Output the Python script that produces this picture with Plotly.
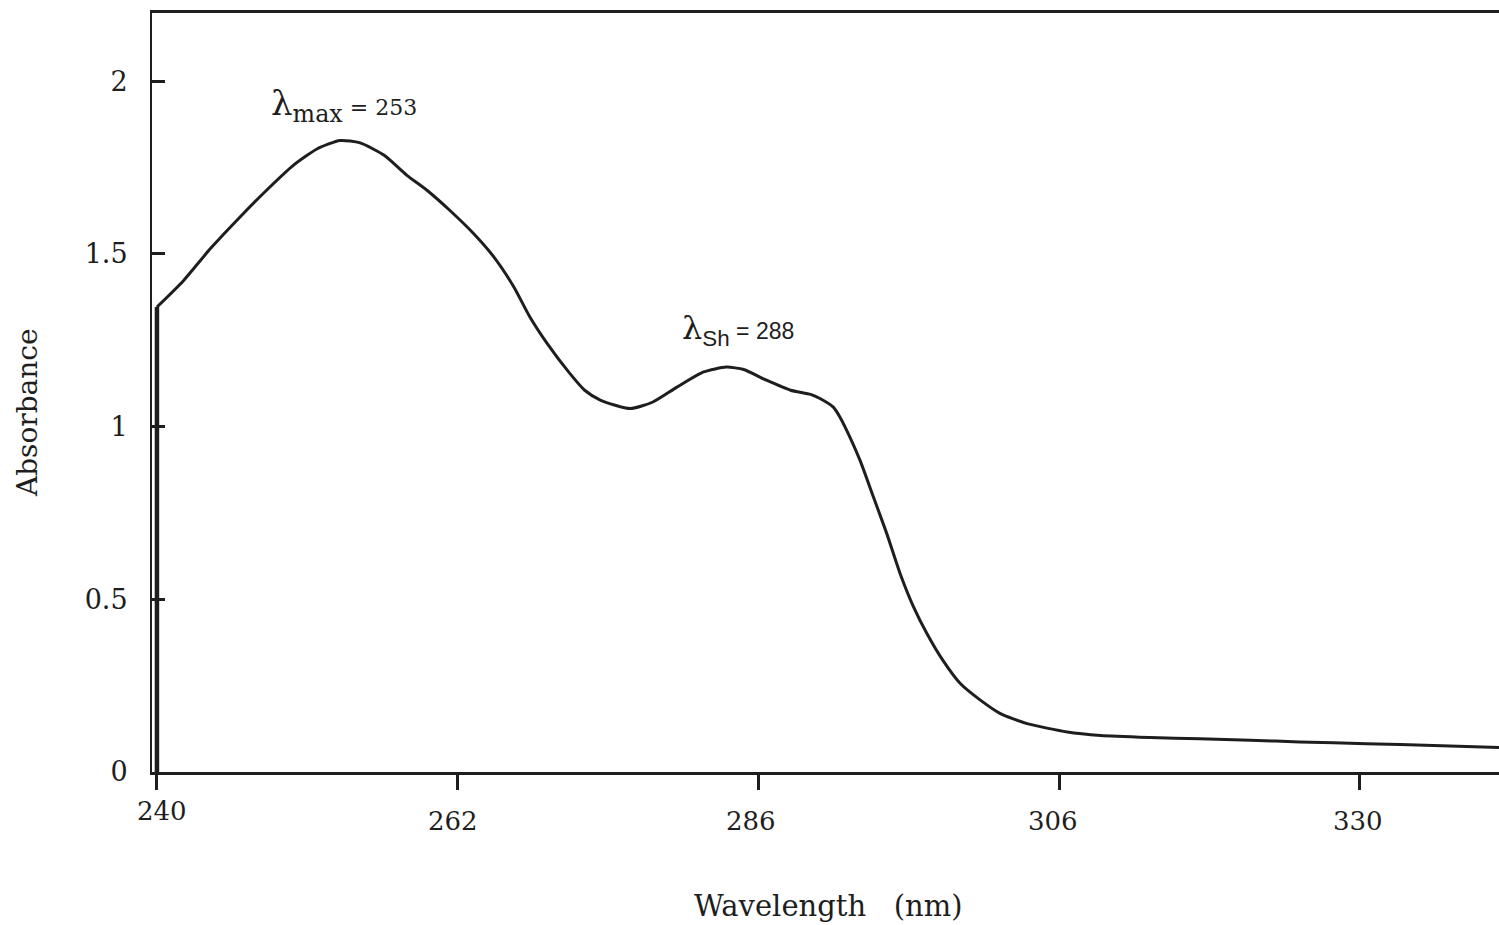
import plotly.graph_objects as go

# Spectrum data
wavelength = [240.0, 240.0, 242.0, 244.0, 246.2, 248.2, 250.2, 252.0, 253.7, 255.2, 257.0,
              258.7, 260.2, 261.9, 263.7, 265.2, 266.7, 267.9, 269.2, 270.9, 272.0, 273.2,
              275.4, 277.1, 278.9, 280.9, 282.6, 283.9, 285.6, 287.4, 288.9, 289.6, 290.6,
              291.1, 291.6, 292.6, 293.6, 294.6, 295.6, 296.6, 297.6, 298.8, 300.1, 301.6,
              303.1, 305.1, 308.1, 310.6, 314.3, 318.0, 321.8, 325.5, 330.5, 335.5, 340.4]
absorbance = [0.0, 1.346, 1.423, 1.515, 1.606, 1.684, 1.756, 1.804, 1.828, 1.821, 1.785,
              1.727, 1.684, 1.626, 1.558, 1.491, 1.404, 1.317, 1.240, 1.153, 1.105, 1.076,
              1.052, 1.071, 1.114, 1.158, 1.172, 1.165, 1.134, 1.105, 1.093, 1.081, 1.056,
              1.027, 0.989, 0.902, 0.796, 0.690, 0.574, 0.478, 0.401, 0.323, 0.256, 0.208,
              0.169, 0.140, 0.116, 0.106, 0.100, 0.096, 0.092, 0.087, 0.082, 0.077, 0.071]

x_tick_positions = [240, 262.5, 285, 307.5, 330]
x_tick_labels = ["240", "262", "286", "306", "330"]
y_tick_values = [0, 0.5, 1, 1.5, 2]
y_tick_labels = ["0", "0.5", "1", "1.5", "2"]

INK = "#1e1e1e"
SERIF = "DejaVu Serif"

fig = go.Figure()
# initial vertical rise of the recorded trace (straight segment)
fig.add_trace(go.Scatter(x=wavelength[:2], y=absorbance[:2], mode="lines",
                         line=dict(color=INK, width=4.5),
                         showlegend=False, hoverinfo="skip"))
# the spectrum itself (smoothed)
fig.add_trace(go.Scatter(x=wavelength[1:], y=absorbance[1:], mode="lines",
                         line=dict(color=INK, width=3, shape="spline", smoothing=0.6),
                         showlegend=False, hoverinfo="skip"))

# x tick labels (slightly staggered in the original)
label_shift_y = [-39, -49, -49, -49, -49]
label_shift_x = [5, -5, -7, -6, -2]
for pos, lab, sy, sx in zip(x_tick_positions, x_tick_labels, label_shift_y, label_shift_x):
    fig.add_annotation(x=pos, y=0, xref="x", yref="paper", text=lab, showarrow=False,
                       yanchor="middle", xanchor="center", yshift=sy, xshift=sx,
                       font=dict(family=SERIF, size=26, color=INK))

# Peak annotations
fig.add_annotation(x=254.0, y=1.93, xref="x", yref="y", showarrow=False,
                   xanchor="center", yanchor="middle",
                   text='λ<sub>max</sub><span style="font-size:22px"> = 253</span>',
                   font=dict(family=SERIF, size=34, color=INK))
fig.add_annotation(x=283.5, y=1.278, xref="x", yref="y", showarrow=False,
                   xanchor="center", yanchor="middle",
                   text='λ<sub><span style="font-family:Liberation Sans">Sh</span></sub>'
                        '<span style="font-size:23px;font-family:Liberation Sans"> = 288</span>',
                   font=dict(family=SERIF, size=32, color=INK))

# Axis titles
fig.add_annotation(x=-0.092, y=0.473, xref="paper", yref="paper", text="Absorbance",
                   textangle=-90, showarrow=False, xanchor="center", yanchor="middle",
                   font=dict(family=SERIF, size=28, color=INK))
fig.add_annotation(x=0.502, y=0, xref="paper", yref="paper", yanchor="middle",
                   xanchor="center", yshift=-134, text="Wavelength&nbsp;&nbsp;&nbsp;(nm)",
                   showarrow=False, font=dict(family=SERIF, size=29, color=INK))

fig.update_layout(
    width=1499, height=925,
    margin=dict(l=152, r=0, t=13, b=153, pad=0),
    plot_bgcolor="white", paper_bgcolor="white",
    xaxis=dict(range=[239.63, 340.4], tickvals=x_tick_positions, showticklabels=False,
               ticks="outside", ticklen=15, tickwidth=3, tickcolor=INK,
               showline=True, linewidth=3, linecolor=INK, mirror=True,
               showgrid=False, zeroline=False),
    yaxis=dict(range=[0, 2.197], tickvals=y_tick_values, ticktext=y_tick_labels,
               ticks="inside", ticklen=13, tickwidth=3, tickcolor=INK,
               ticklabelstandoff=17,
               showline=True, linewidth=2, linecolor=INK,
               showgrid=False, zeroline=False,
               tickfont=dict(family=SERIF, size=27, color=INK)),
)

fig.write_html("out.html", config={"displayModeBar": False},
               post_script="document.body.style.margin='0';document.body.style.overflow='hidden';")
